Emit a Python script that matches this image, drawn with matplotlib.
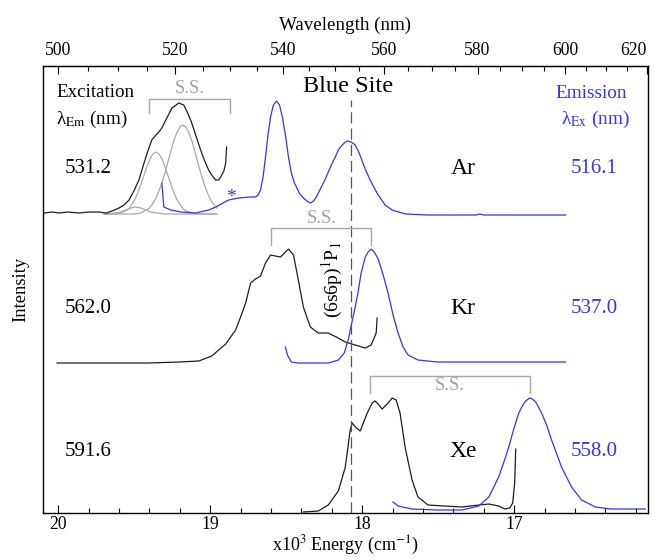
import matplotlib.pyplot as plt
from matplotlib.ticker import MultipleLocator

plt.rcParams['font.family'] = ['Liberation Serif', 'DejaVu Serif']
plt.rcParams['mathtext.fontset'] = 'stix'

# energies in 10^3 cm^-1, intensities in arbitrary units above each trace baseline

# Ar excitation (black) and gaussian components (grey)
ar_ex_e = [20.092, 20.04, 19.993, 19.94, 19.862, 19.80, 19.731, 19.685, 19.646, 19.600,
           19.567, 19.534, 19.502, 19.469, 19.449, 19.423, 19.403, 19.384, 19.357, 19.338,
           19.318, 19.292, 19.272, 19.252, 19.233, 19.207, 19.174, 19.148, 19.121, 19.089,
           19.056, 19.036, 19.010, 18.990, 18.964, 18.944, 18.931, 18.910, 18.898, 18.892]
ar_ex_i = [0, 1, 0, 1, 0, 1, 1, 0, 2, 5,
           8, 13, 22, 33, 43, 56, 65, 73, 78, 81,
           85, 93, 99, 105, 107, 110, 108, 100, 90, 75,
           60, 52, 43, 38, 33, 33, 36, 42, 50, 66]

fit1_e = [19.698, 19.621, 19.588, 19.555, 19.522, 19.489, 19.456, 19.423, 19.390, 19.357, 19.291, 18.957]
fit1_i = [-1, 0, 1, 3, 5, 6, 5, 3, 1, 0, -1, -1]
fit2_e = [19.698, 19.637, 19.597, 19.557, 19.537, 19.517, 19.497, 19.477, 19.457, 19.437,
          19.417, 19.397, 19.377, 19.357, 19.337, 19.317, 19.297, 19.277, 19.257, 19.237,
          19.217, 19.197, 19.177, 19.157, 19.117, 19.077, 18.957]
fit2_i = [-1, -1, 0, 2, 4, 8, 13, 20, 28, 37,
          46, 54, 59, 61, 59, 54, 46, 37, 28, 20,
          13, 8, 4, 2, 0, -1, -1]
fit3_e = [19.698, 19.500, 19.460, 19.420, 19.400, 19.380, 19.360, 19.340, 19.320, 19.300,
          19.280, 19.260, 19.240, 19.220, 19.200, 19.180, 19.160, 19.140, 19.120, 19.100,
          19.080, 19.060, 19.040, 19.020, 19.000, 18.980, 18.957]
fit3_i = [-1, -1, 0, 3, 5, 9, 14, 21, 29, 39,
          50, 61, 72, 80, 86, 88, 86, 80, 72, 61,
          50, 39, 29, 21, 14, 9, 5]

# Ar emission (blue)
ar_em_e = [19.318, 19.305, 19.259, 19.187, 19.095, 19.010, 18.964, 18.879, 18.813, 18.740,
           18.702, 18.685, 18.669, 18.652, 18.636, 18.620, 18.603, 18.584, 18.564, 18.544,
           18.525, 18.505, 18.485, 18.466, 18.446, 18.433, 18.410, 18.387, 18.364, 18.341,
           18.320, 18.302, 18.269, 18.246, 18.223, 18.200, 18.177, 18.157, 18.138, 18.118,
           18.098, 18.072, 18.046, 18.020, 18.000, 17.980, 17.948, 17.920, 17.895, 17.849,
           17.803, 17.760, 17.711, 17.567, 17.252, 17.226, 17.200, 16.662]
ar_em_i = [30, 6, 3, 1, 0, 3, 6, 13, 15, 16,
           16, 18, 23, 36, 56, 78, 96, 108, 112, 108,
           96, 78, 56, 40, 30, 26, 19, 15, 12, 10,
           12, 16, 26, 33, 41, 49, 56, 63, 67, 70,
           72, 71, 68, 60, 52, 44, 33, 25, 18, 8,
           3, 1, -1, -2, -2, -1, -2, -2]

# Kr excitation (black)
kr_ex_e = [20.007, 19.731, 19.403, 19.207, 19.075, 18.990, 18.944, 18.898, 18.833, 18.800,
           18.767, 18.734, 18.702, 18.669, 18.636, 18.603, 18.570, 18.538, 18.511, 18.485,
           18.452, 18.420, 18.387, 18.341, 18.289, 18.223, 18.170, 18.111, 18.046, 17.980,
           17.941, 17.908, 17.902]
kr_ex_i = [0, 0, 0, 1, 2, 7, 13, 19, 33, 46,
           60, 80, 84, 87, 100, 108, 107, 106, 110, 114,
           108, 83, 56, 36, 30, 30, 26, 21, 18, 15,
           18, 30, 45]

# Kr emission (blue)
kr_em_e = [18.505, 18.492, 18.466, 18.420, 18.334, 18.223, 18.157, 18.118, 18.092, 18.066,
           18.046, 18.026, 18.007, 17.980, 17.961, 17.941, 17.921, 17.895, 17.862, 17.830,
           17.797, 17.764, 17.731, 17.698, 17.633, 17.502, 17.108, 16.662]
kr_em_i = [16, 8, 1, 0, 0, 0, 3, 10, 23, 42,
           56, 72, 90, 106, 111, 114, 111, 104, 88, 70,
           48, 30, 16, 8, 3, 1, 1, 1]

# Xe excitation (black)
xe_ex_e = [18.387, 18.289, 18.223, 18.157, 18.111, 18.079, 18.066, 18.039, 18.013, 17.967,
           17.934, 17.915, 17.895, 17.869, 17.836, 17.803, 17.777, 17.751, 17.718, 17.672,
           17.633, 17.567, 17.456, 17.344, 17.233, 17.167, 17.102, 17.062, 17.030, 17.010,
           16.997, 16.990]
xe_ex_i = [1, 2, 8, 22, 46, 83, 90, 85, 82, 100,
           110, 112, 109, 104, 109, 115, 113, 100, 66, 33,
           16, 8, 7, 6, 8, 9, 7, 4, 5, 10,
           30, 64]

# Xe emission (blue)
xe_em_e = [17.797, 17.764, 17.672, 17.502, 17.344, 17.233, 17.167, 17.102, 17.070, 17.036,
           17.003, 16.970, 16.947, 16.925, 16.898, 16.880, 16.859, 16.840, 16.820, 16.787,
           16.754, 16.720, 16.689, 16.623, 16.557, 16.466, 16.361, 16.138]
xe_em_i = [11, 7, 4, 3, 3, 7, 16, 36, 50, 66,
           84, 100, 107, 112, 115, 114, 111, 106, 100, 88,
           73, 59, 46, 26, 13, 6, 4, 4]

# wavelengths (nm) of the probe for each host
hosts = ['Ar', 'Kr', 'Xe']
ex_labels = ['531.2', '562.0', '591.6']
em_labels = ['516.1', '537.0', '558.0']

# site splitting brackets (energy limits)
ss_left = [19.403, 18.597, 17.948]
ss_right = [18.872, 17.941, 16.898]

atomic_line = 18.072  # (6s6p)1P1

wl_ticks = [500, 520, 540, 560, 580, 600, 620]

offsets = [300, 150, 0]
black = '#1e1e1e'
blue = '#3232ff'
grey = '#a6a6a6'

fig = plt.figure(figsize=(6.54, 5.6), dpi=100)
ax = fig.add_axes([0.0657, 0.0839, 0.9251, 0.7982])

ex_sets = [(ar_ex_e, ar_ex_i), (kr_ex_e, kr_ex_i), (xe_ex_e, xe_ex_i)]
em_sets = [(ar_em_e, ar_em_i), (kr_em_e, kr_em_i), (xe_em_e, xe_em_i)]

for (fe, fi) in [(fit1_e, fit1_i), (fit2_e, fit2_i), (fit3_e, fit3_i)]:
    ax.plot(fe, [v + offsets[0] for v in fi], color='#a8a8a8', lw=0.9)

for k in range(3):
    e, i = ex_sets[k]
    ax.plot(e, [v + offsets[k] for v in i], color=black, lw=0.9)
    e, i = em_sets[k]
    ax.plot(e, [v + offsets[k] for v in i], color=blue, lw=0.9)

# dashed atomic line
ax.plot([atomic_line, atomic_line], [0, 413], color='#555555', lw=0.9, dashes=(9, 4))

# S.S. brackets
bracket_y = [414, 285, 137]
bracket_h = [14, 17, 17]
ss_text_y = [425, 295, 128]
for k in range(3):
    yb = bracket_y[k]
    ax.plot([ss_left[k], ss_left[k], ss_right[k], ss_right[k]],
            [yb - bracket_h[k], yb, yb, yb - bracket_h[k]], color=grey, lw=1.0)
    ax.text((ss_left[k] + ss_right[k]) / 2, ss_text_y[k], 'S.S.', color='#a0a0a0',
            fontsize=13.4, ha='center', va='center')

# labels for each row
label_y = [345, 205, 62]
for k in range(3):
    ax.text(19.803, label_y[k], ex_labels[k], fontsize=15, ha='center', va='center')
    ax.text(17.338, label_y[k], hosts[k], fontsize=17, ha='center', va='center')
    ax.text(16.472, label_y[k], em_labels[k], fontsize=15, ha='center', va='center', color=blue)

ax.text(20.013, 421, 'Excitation', fontsize=13.7, ha='left', va='center')
ax.text(20.013, 394, 'λ$_{\\mathrm{Em}}$ (nm)', fontsize=13.7, ha='left', va='center')
ax.text(16.492, 420, 'Emission', fontsize=13.9, ha='center', va='center', color=blue)
ax.text(16.466, 394, 'λ$_{\\mathrm{Ex}}$ (nm)', fontsize=13.9, ha='center', va='center', color=blue)
ax.text(18.092, 427, 'Blue Site', fontsize=17.5, ha='center', va='center')
ax.text(18.197, 233, '(6s6p)$^1$P$_1$', fontsize=14, ha='center', va='center', rotation=90)
ax.text(18.866, 316, '*', fontsize=14, ha='center', va='center', color=blue)

ax.set_xlim(20.1, 16.12)
ax.set_ylim(0, 447)
ax.set_yticks([])
ax.set_ylabel('Intensity', fontsize=13.4, labelpad=10)
ax.set_xlabel('x10$^3$ Energy (cm$^{-1}$)', fontsize=13)
ax.xaxis.set_label_coords(0.5, -0.047)
ax.set_xticks([20, 19, 18, 17])
ax.xaxis.set_minor_locator(MultipleLocator(0.2))
ax.tick_params(axis='x', which='major', direction='in', length=6, width=0.8, labelsize=12.7, pad=2)
ax.tick_params(axis='x', which='minor', direction='in', length=3.5, width=0.8)
for s in ax.spines.values():
    s.set_linewidth(1.0)

sec = ax.secondary_xaxis('top', functions=(lambda x: 1e4 / x, lambda x: 1e4 / x))
sec.set_xticks(wl_ticks, labels=[str(w) for w in wl_ticks])
sec.xaxis.set_minor_locator(MultipleLocator(5))
sec.tick_params(axis='x', which='major', direction='in', length=6, width=0.8, labelsize=12.7, pad=5)
sec.tick_params(axis='x', which='minor', direction='in', length=3.5, width=0.8)
sec.set_xlabel('Wavelength (nm)', fontsize=13.7, labelpad=9)
sec.get_xticklabels()[-1].set_horizontalalignment('right')

fig.savefig('out.png', dpi=100)
